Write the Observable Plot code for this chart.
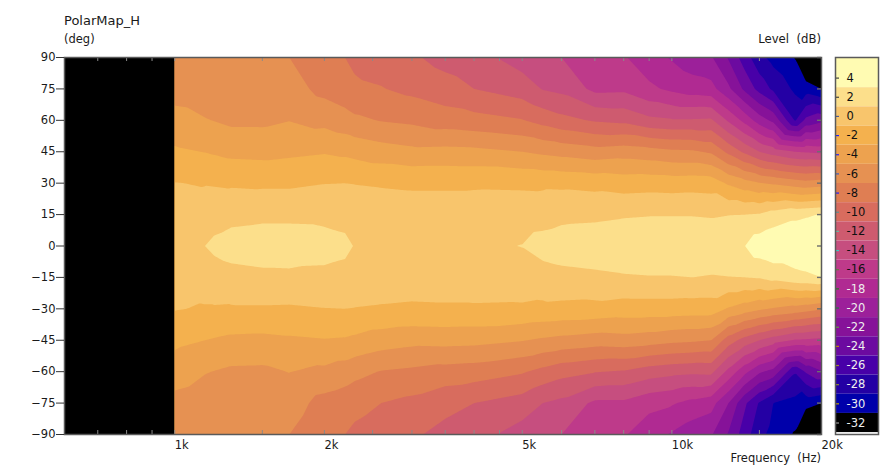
<!DOCTYPE html>
<html>
<head>
<meta charset="utf-8">
<script src="https://cdn.jsdelivr.net/npm/d3@7"></script>
<script src="https://cdn.jsdelivr.net/npm/@observablehq/plot@0.6"></script>
<style>
html,body{margin:0;padding:0;background:#fff;}
#chart{position:relative;width:892px;height:469px;overflow:hidden;font-family:"DejaVu Sans",sans-serif;font-size:12px;color:#1a1a1a;}
#chart svg{position:absolute;left:0;top:0;background:transparent;}
.t{position:absolute;white-space:pre;line-height:14px;}
</style>
</head>
<body>
<div id="chart">
<div class="t" style="left:64px;top:14px;font-size:13px">PolarMap_H</div>
<div class="t" style="left:64px;top:32px;font-size:11.5px">(deg)</div>
<div class="t" style="right:71px;top:32px;font-size:11.7px">Level  (dB)</div>
<div class="t" style="right:71px;top:451px;font-size:11.5px">Frequency  (Hz)</div>
</div>
<script>
const freqs = [1000,1150,1200,1300,1500,1700,2000,2200,2300,2600,3000,3500,4000,5000,5500,6000,7000,8000,9000,10000,11000,12000,13000,14000,15000,16000,17700,18600,20000];
const angleP90 = [-6.2,-6.6,-6.6,-6.7,-6.85,-7.0,-8.4,-9,-9.4,-9.9,-10.7,-11.7,-12.2,-13.9,-14.6,-15,-16,-16.8,-18.2,-19.2,-20.2,-20.8,-23.2,-26,-28.4,-29.7,-31.1,-34,-36];
const angleP75 = [-5.8,-6.0,-6.05,-6.2,-6.3,-6.2,-7.6,-8.2,-8.65,-8.9,-9.5,-10.2,-11,-12,-13.1,-13.5,-15.5,-15.4,-16.6,-17.4,-18,-18.3,-20.6,-23.4,-25.7,-27.4,-29.4,-30,-31];
const angleP60 = [-4.3,-4.9,-5.05,-5.4,-5.4,-5.05,-5.6,-6.2,-6.6,-7.1,-7.4,-8.0,-8.3,-8.9,-9.7,-10.4,-11.2,-11.5,-12.5,-12.8,-12.8,-12.7,-15.3,-17.6,-20,-21.5,-27.2,-24.5,-23.5];
const angleP45 = [-2.7,-3.05,-3.2,-3.5,-3.6,-3.4,-3.15,-3.4,-3.6,-4.1,-4.5,-4.4,-4.5,-5.0,-5.4,-5.7,-6.2,-5.9,-6.2,-6.6,-6.7,-7.3,-9.5,-11.4,-13,-13.9,-15,-15.2,-15.5];
const angleP30 = [-0.95,-1.1,-1.15,-1.25,-1.35,-1.35,-1.05,-1,-1.05,-1.15,-1.25,-1.25,-1.25,-1.3,-1.35,-1.4,-1.6,-1.9,-1.8,-1.9,-1.8,-1.9,-3.3,-4.2,-4.9,-5.3,-6,-6.3,-6];
const angleP15 = [-0.3,-0.1,0.2,0.45,0.6,0.6,0.55,0.3,0,-0.15,-0.2,-0.2,-0.1,0,0.15,0.5,0.6,0.8,0.9,0.9,0.9,0.8,0.95,1.0,1.15,1.9,2.6,2.8,3.1];
const angle000 = [0.2,1.0,1.4,1.8,2.0,2.0,1.7,1.5,0.9,0.7,0.6,0.6,0.6,1.05,1.8,2,2.2,2.5,2.6,2.7,2.7,2.6,2.6,2.95,4.2,4.6,4.6,4.7,4.8];
const angleM15 = [-0.3,-0.1,0.1,0.35,0.55,0.6,0.55,0.3,0,-0.15,-0.2,-0.2,-0.1,0,0.1,0.4,0.6,0.8,0.9,0.9,1,0.85,0.95,1.0,1.15,1.7,2.4,2.6,3.0];
const angleM30 = [-0.9,-1.15,-1.15,-1.2,-1.2,-1.25,-1.05,-1,-1.05,-1.15,-1.25,-1.2,-1.2,-1.25,-1.4,-1.5,-1.6,-1.9,-1.9,-1.9,-2,-2,-3.2,-4,-4.7,-5.2,-5.8,-6.2,-6.8];
const angleM45 = [-2.5,-3,-3.15,-3.4,-3.5,-3.3,-3.1,-3.2,-3.4,-4,-4.4,-4.3,-4.4,-4.9,-5.3,-5.6,-6,-5.8,-6.1,-6.5,-6.7,-7,-10,-11.8,-13,-14,-15.2,-15.3,-15.6];
const angleM60 = [-4.1,-4.9,-5.05,-5.35,-5.4,-4.95,-5.45,-6,-6.4,-7.1,-7.4,-7.8,-8,-8.8,-9.6,-10.3,-10.9,-11.2,-12,-12.4,-12.6,-12.5,-15.6,-18.4,-20.7,-21.7,-26.8,-24.8,-23.2];
const angleM75 = [-5.6,-6,-6.05,-6.2,-6.3,-6.1,-7.7,-8.1,-8.4,-9,-9.5,-10.4,-11,-11.9,-13,-13.5,-15.4,-15.4,-16.4,-16.8,-17.6,-18.2,-21,-24.6,-27.2,-29,-29.6,-30.3,-31];
const angleM90 = [-6.1,-6.6,-6.6,-6.7,-6.85,-7,-8.4,-9,-9.4,-9.9,-10.7,-11.6,-12.2,-13.9,-14.6,-15,-16,-16.8,-18.2,-19.2,-20.2,-20.8,-23.2,-26,-28.4,-29.7,-31.2,-34,-36];

const rows = [[90,angleP90],[75,angleP75],[60,angleP60],[45,angleP45],[30,angleP30],[15,angleP15],[0,angle000],[-15,angleM15],[-30,angleM30],[-45,angleM45],[-60,angleM60],[-75,angleM75],[-90,angleM90]];
const cells = rows.flatMap(([a, vals]) => vals.map((v, i) => ({f: freqs[i], a, v})));

const levels = [4,2,0,-2,-4,-6,-8,-10,-12,-14,-16,-18,-20,-22,-24,-26,-28,-30,-32];
const bandColors = ["#FFFBB2","#FCDF8B","#F8C56C","#F4B14E","#EDA24F","#E69152","#DF7E53","#D86C5E","#CE5B6F","#C64E7F","#BE3A8A","#B02A92","#9C209A","#861299","#6C0AA0","#4800A8","#2400A4","#0000AA","#000000"];
const tickColors = ["#444444","#444444","#4A5A9A","#2020FF","#2020FF","#4060C0","#2020FF","#609090","#70B0A0","#40C8C0","#608040","#208020","#208040","#60A040","#C09000","#A08830","#909030","#C0A000","#999999"];
const labelColors = ["#111","#111","#111","#111","#111","#111","#111","#111","#111","#111","#111","#eee","#eee","#eee","#eee","#eee","#eee","#eee","#eee"];
const thresholds = [-31,-29,-27,-25,-23,-21,-19,-17,-15,-13,-11,-9,-7,-5,-3,-1,1,3];
const colorDomain = thresholds;
const colorRange = bandColors.slice().reverse();

const yTicks = [90,75,60,45,30,15,0,-15,-30,-45,-60,-75,-90];
const xLabelled = [1000,2000,5000,10000,20000];
const xMinor = [700,800,900,1000,1500,2000,2500,3000,3500,4000,4500,5000,6000,7000,8000,9000,10000,15000];
const noData = [{f1:600,f2:1000}];
const fmtK = d => (d/1000)+"k";
const frameColor = "#5a5a5a";
const font = {fontFamily:'"DejaVu Sans",sans-serif', fontSize:"11.5px", background:"transparent", overflow:"visible"};

const main = Plot.plot({
  width:892, height:469, marginLeft:64, marginRight:71, marginTop:57, marginBottom:35,
  style:font,
  x:{type:"log", domain:[600,20000], axis:null},
  y:{domain:[-90,90], axis:null},
  color:{type:"threshold", domain:colorDomain, range:colorRange},
  marks:[
    Plot.frame({fill:"#000", stroke:null}),
    Plot.contour(cells,{x:"f", y:"a", fill:"v", thresholds, pixelSize:1, interpolate:"barycentric"}),
    Plot.rectY(noData,{x1:"f1", x2:"f2", y1:-90, y2:90, fill:"#000"}),
    Plot.tickX(xMinor,{x:d=>d, stroke:"#8a8a8a", strokeWidth:1, insetBottom:373}),
    Plot.tickX(xMinor,{x:d=>d, stroke:"#8a8a8a", strokeWidth:1, insetTop:373}),
    Plot.tickY(yTicks,{y:d=>d, stroke:"#6e6e6e", strokeWidth:1.4, insetLeft:753}),
    Plot.frame({stroke:frameColor, strokeWidth:1.5}),
    Plot.axisY({ticks:yTicks, tickSize:8, tickPadding:1, label:null, stroke:"#333", fill:"#1a1a1a"}),
    Plot.axisX({ticks:xLabelled, tickFormat:fmtK, tickSize:0, tickPadding:6, textAnchor:"start", label:null, fill:"#1a1a1a"})
  ]
});
document.getElementById("chart").appendChild(main);

const legend = Plot.plot({
  width:892, height:469, marginLeft:835, marginRight:14, marginTop:57, marginBottom:35,
  style:font,
  x:{domain:[0,1], axis:null},
  y:{domain:[-33.2,6.15], axis:null},
  color:{type:"threshold", domain:colorDomain, range:colorRange},
  marks:[
    Plot.rect(levels,{x1:0, x2:1, y1:d=>Math.max(d-1,-33.2), y2:d=>d===4?6.15:d+1, fill:d=>d}),
    Plot.tickY(levels,{y:d=>d, stroke:(d,i)=>tickColors[i], strokeWidth:1.2, insetRight:39}),
    Plot.text(levels,{y:d=>d, text:d=>String(d), frameAnchor:"left", dx:11, textAnchor:"start", fill:(d,i)=>labelColors[i]}),
    Plot.frame({stroke:frameColor, strokeWidth:1.5})
  ]
});
document.getElementById("chart").appendChild(legend);
</script>
</body>
</html>
